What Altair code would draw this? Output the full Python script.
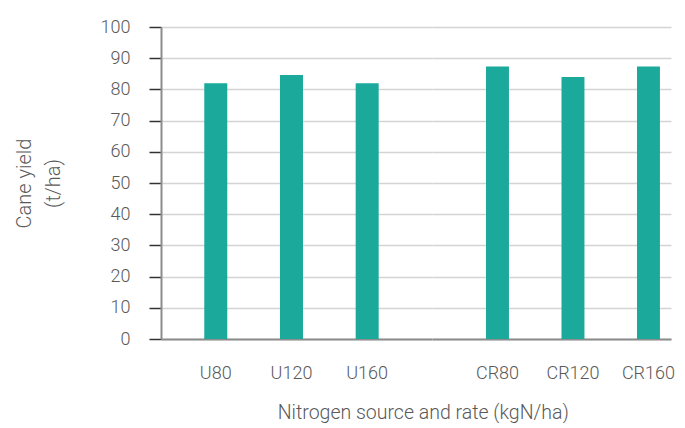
import altair as alt
import pandas as pd

urea_labels = ["U80", "U120", "U160"]
urea_yield = [82.0, 84.6, 82.0]
cr_labels = ["CR80", "CR120", "CR160"]
cr_yield = [87.3, 84.0, 87.3]

y_title = ["Cane yield", "(t/ha)"]
x_title = "Nitrogen source and rate (kgN/ha)"

BAR = "#1aa99b"
FONT = "Roboto"
TXT = "#595959"

df_u = pd.DataFrame({"treatment": urea_labels, "yield": urea_yield})
df_c = pd.DataFrame({"treatment": cr_labels, "yield": cr_yield})

yscale = alt.Scale(domain=[0, 100], nice=False)

left = alt.Chart(df_u).mark_bar(color=BAR).encode(
    x=alt.X("treatment:N", sort=urea_labels, title=None,
            scale=alt.Scale(paddingInner=0.696, paddingOuter=0.638, align=0.448),
            axis=alt.Axis(labelAngle=0, ticks=False, labelPadding=25,
                          domainColor="#8c8c8c", domainWidth=2)),
    y=alt.Y("yield:Q", scale=yscale, title=y_title,
            axis=alt.Axis(values=list(range(0, 101, 10)), tickSize=12, tickColor="#333333",
                          tickWidth=1.5, labelPadding=19, titlePadding=37,
                          titleLineHeight=29, titleFontSize=20,
                          domainColor="#8c8c8c", domainWidth=2,
                          grid=True, gridColor="#d4d4d4", gridWidth=1.5)),
).properties(width=271, height=312)

right = alt.Chart(df_c).mark_bar(color=BAR).encode(
    x=alt.X("treatment:N", sort=cr_labels, title=None,
            scale=alt.Scale(paddingInner=0.696, paddingOuter=0.431, align=0.83),
            axis=alt.Axis(labelAngle=0, ticks=False, labelPadding=25,
                          domainColor="#8c8c8c", domainWidth=2)),
    y=alt.Y("yield:Q", scale=yscale, title=None,
            axis=alt.Axis(values=list(range(0, 101, 10)), labels=False, ticks=False,
                          domain=False, grid=True, gridColor="#d4d4d4", gridWidth=1.5)),
).properties(width=239, height=312)

chart = alt.hconcat(left, right, spacing=0).resolve_scale(
    x="independent"
).properties(
    title=alt.TitleParams(x_title, orient="bottom", anchor="middle", dx=79, offset=22,
                          fontSize=19.5, font=FONT, fontWeight=300, color=TXT),
    padding={"left": 6, "top": 10, "right": 0, "bottom": 0},
).configure_view(stroke=None).configure_axis(
    labelFont=FONT, titleFont=FONT, labelFontSize=18, titleFontSize=20,
    labelFontWeight=300, titleFontWeight=300, labelColor=TXT, titleColor=TXT,
)

chart.save("out.html", embed_options={"renderer": "svg", "actions": False})
